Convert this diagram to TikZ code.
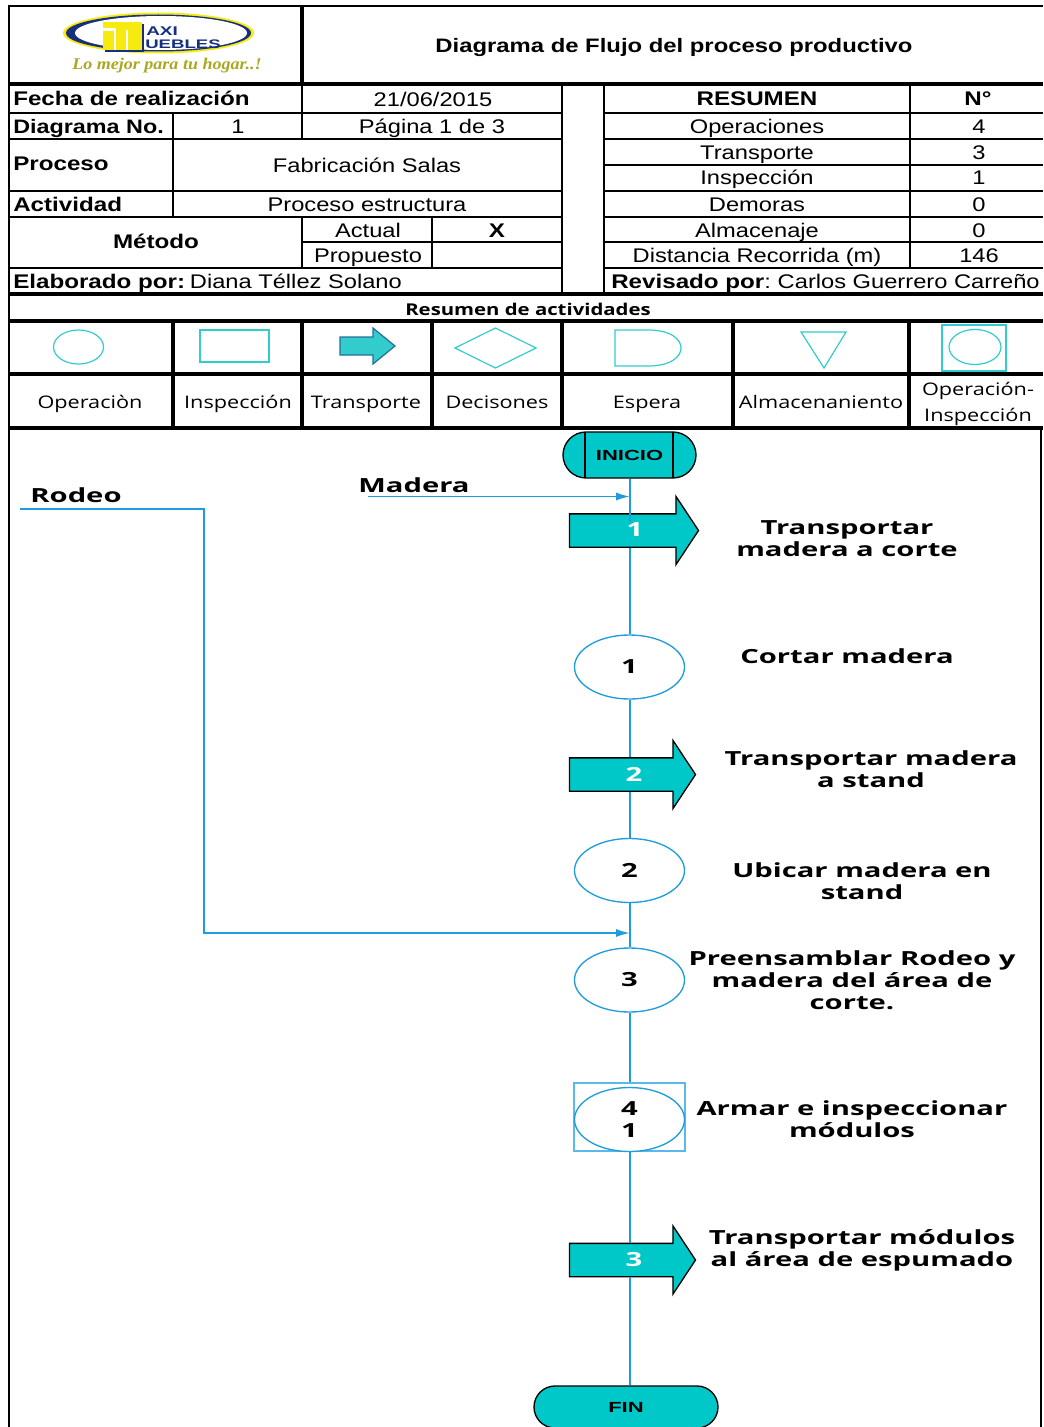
\documentclass[tikz,border=0pt]{standalone}
\usepackage{fontspec}
\usetikzlibrary{shapes.geometric,shapes.arrows,shapes.misc,arrows.meta}
\newfontfamily\tabfont[FakeStretch=1.2]{Liberation Sans}
\newfontfamily\tabbfont[FakeStretch=1.225]{Liberation Sans}
\newfontfamily\termfont[FakeStretch=1.5]{Liberation Sans}
\newfontfamily\labfont[FakeStretch=1.25]{Open Sans}
\newfontfamily\flowfont[FakeStretch=1.5]{Open Sans}
\newfontfamily\logofont[FakeStretch=1.1]{Liberation Serif}
\definecolor{teal1}{HTML}{00C8C8}
\definecolor{icon1}{HTML}{33CCCC}
\definecolor{flow1}{HTML}{1F9CDD}
\definecolor{flow2}{HTML}{5BB8EA}
\definecolor{navy1}{HTML}{16307F}
\definecolor{logoy}{HTML}{F6EA10}
\definecolor{logot}{HTML}{A9A820}
\newcommand{\numfnt}{\flowfont\bfseries\fontsize{14.6}{16.5}\selectfont}
\tikzset{
  grid/.style={black,line width=1.1pt},
  gridb/.style={black,line width=2.3pt},
  frame/.style={black,line width=.8pt},
  tt/.style={inner sep=0pt,text height=10.5pt,text depth=0pt,font=\tabfont\fontsize{14.8}{16}\selectfont},
  ttb/.style={tt,font=\tabbfont\bfseries\fontsize{14.8}{16}\selectfont},
  lab/.style={inner sep=0pt,text height=10pt,text depth=3pt,font=\labfont\fontsize{13}{19.5}\selectfont},
  labtwo/.style={inner sep=0pt,align=center,font=\labfont\fontsize{13}{19.5}\selectfont},
  iconline/.style={icon1,line width=.9pt},
  flowlab/.style={inner sep=0pt,align=center,font=\numfnt},
  flownum/.style={inner sep=0pt,text=white,font=\numfnt},
  flowline/.style={draw=flow1,line width=1.5pt},
  flowarr/.style={draw=flow1,line width=.85pt,-{Latex[length=10pt,width=6pt]}},
  oper/.style={ellipse,draw=flow1,line width=1pt,fill=white,inner sep=0pt,minimum width=82.5pt,minimum height=48pt,font=\numfnt,align=center},
  trans/.style={single arrow,draw=black,line width=1pt,fill=teal1,inner sep=0pt,single arrow tip angle=113,single arrow head extend=13.1pt,minimum width=48.5pt,text height=17pt,text depth=7pt},
  term/.style={rounded rectangle,draw=black,line width=1pt,fill=teal1,inner sep=0pt,font=\termfont\bfseries\fontsize{11}{12}\selectfont},
}
\begin{document}
\begin{tikzpicture}[x=.75pt,y=-.75pt]
\useasboundingbox (0,0) rectangle (1043,1427);
\clip (0,0) rectangle (1043,1427);
% outer frame and grid
\draw[frame] (1043,6) -- (9,6) -- (9,1427);
\draw[frame] (1041,428) -- (1041,1427);
\draw[gridb] (302,6) -- (302,84);
\draw[gridb] (9,84) -- (1043,84);
\draw[gridb] (9,294) -- (1043,294);
\foreach \y in {113,139,191,217,268} \draw[grid] (9,\y) -- (562,\y);
\draw[grid] (302,242) -- (562,242);
\foreach \y in {113,139,165,191,217,242,268} \draw[grid] (604,\y) -- (1043,\y);
\draw[grid] (173,113) -- (173,217);
\draw[grid] (302,84) -- (302,139);
\draw[grid] (302,217) -- (302,268);
\draw[grid] (432,217) -- (432,268);
\draw[grid] (562,84) -- (562,294);
\draw[grid] (604,84) -- (604,294);
\draw[grid] (910,84) -- (910,268);
\foreach \y in {321,374,428} \draw[gridb] (9,\y) -- (1043,\y);
\foreach \x in {173,302,432,562,733,909} \draw[gridb] (\x,321) -- (\x,428);
% logo
\fill[logoy] (158.5,33) ellipse [x radius=95.5,y radius=20.5];
\fill[navy1] (158.5,33) ellipse [x radius=92.5,y radius=18.5];
\fill[white] (161,33) ellipse [x radius=86,y radius=17];
\fill[navy1] (105,24) rectangle (144,52);
\fill[logoy] (103,22) rectangle (142,50);
\fill[white] (113.5,30) rectangle (115.5,50);
\fill[white] (126,30) rectangle (128,50);
\fill[white] (103,28) rectangle (115.5,31);
\node[inner sep=0pt,anchor=west,text=navy1,font=\termfont\bfseries\fontsize{9.5}{10}\selectfont] (logoa) at (146,31.5) {AXI};
\node[inner sep=0pt,anchor=west,text=navy1,font=\termfont\bfseries\fontsize{9.3}{10}\selectfont] (logob) at (145,44.5) {UEBLES};
\node[inner sep=0pt,text=logot,font=\logofont\itshape\bfseries\fontsize{12.3}{14}\selectfont] (logoc) at (167,65.5) {Lo mejor para tu hogar..!};
% title
\node[ttb,font=\tabbfont\bfseries\fontsize{14.6}{16}\selectfont] (title) at (674,46) {Diagrama de Flujo del proceso productivo};
% header table
\node[ttb,anchor=west] (fecha) at (13,99) {Fecha de realización};
\node[tt] (fechav) at (433,100) {21/06/2015};
\node[ttb,anchor=west,font=\tabfont\bfseries\fontsize{14.6}{16}\selectfont] (diag) at (13,127) {Diagrama No.};
\node[tt] (diagv) at (238,127) {1};
\node[tt] (pag) at (432,127) {Página 1 de 3};
\node[ttb,anchor=west] (proc) at (13,164) {Proceso};
\node[tt] (procv) at (367,166) {Fabricación Salas};
\node[ttb,anchor=west] (act) at (13,204) {Actividad};
\node[tt] (actv) at (367,204) {Proceso estructura};
\node[ttb] (met) at (156,241) {Método};
\node[tt] (actual) at (368,230) {Actual};
\node[ttb] (x) at (497,230) {X};
\node[tt] (prop) at (368,255) {Propuesto};
\node[tt,anchor=west] (elab) at (13,281) {{\tabbfont\bfseries Elaborado por:}\hspace{-3pt} Diana Téllez Solano};
\node[ttb] (res) at (757,99) {RESUMEN};
\node[ttb] (num) at (978,99) {N°};
\node[tt] (r1) at (757,127) {Operaciones};
\node[tt] (n1) at (979,127) {4};
\node[tt] (r2) at (757,153) {Transporte};
\node[tt] (n2) at (979,153) {3};
\node[tt] (r3) at (757,178) {Inspección};
\node[tt] (n3) at (979,178) {1};
\node[tt] (r4) at (757,204) {Demoras};
\node[tt] (n4) at (979,204) {0};
\node[tt] (r5) at (757,230) {Almacenaje};
\node[tt] (n5) at (979,230) {0};
\node[tt] (r6) at (757,255) {Distancia Recorrida (m)};
\node[tt] (n6) at (979,255) {146};
\node[tt,anchor=west] (rev) at (611,281) {{\tabbfont\bfseries Revisado por}:\hspace{-1.5pt} Carlos Guerrero Carreño};
% legend
\node[inner sep=0pt,font=\labfont\bfseries\fontsize{12.2}{14}\selectfont] (resact) at (528,309) {Resumen de actividades};
\draw[iconline] (78.5,347) ellipse [x radius=25,y radius=17];
\draw[iconline] (200,330) rectangle (269,362);
\draw[line width=.9pt,draw=navy1!60!icon1,fill=icon1] (340,337) -- (373,337) -- (373,328) -- (395,346) -- (373,364) -- (373,355) -- (340,355) -- cycle;
\draw[iconline] (455,348) -- (495.5,328) -- (536,348) -- (495.5,368) -- cycle;
\draw[iconline] (615,330) -- (648,330) .. controls (672,330) and (681,340) .. (681,348) .. controls (681,356) and (672,366) .. (648,366) -- (615,366) -- cycle;
\draw[iconline] (801,332) -- (846,332) -- (824,368) -- cycle;
\draw[iconline] (942,325) rectangle (1006,371);
\draw[iconline] (975,347) ellipse [x radius=26,y radius=17.5];
\node[lab] (l1) at (90,404) {Operaciòn};
\node[lab] (l2) at (238,404) {Inspección};
\node[lab] (l3) at (366,404) {Transporte};
\node[lab] (l4) at (497,404) {Decisones};
\node[lab] (l5) at (647,404) {Espera};
\node[lab] (l6) at (821,404) {Almacenaniento};
\node[labtwo] (l7) at (978,404) {Operación-\\Inspección};
% flow nodes
\node[term,minimum width=99.75pt,minimum height=34.5pt] (ini) at (629.5,455) {INICIO};
\draw[line width=1pt] (585,432) -- (585,478) (673,432) -- (673,478);
\node[trans,minimum height=96.75pt] (a1) at (628.5,530.5) {};
\node[oper] (o1) at (629.5,667) {1};
\node[trans,minimum height=94.5pt] (a2) at (627,774.5) {};
\node[oper] (o2) at (629.5,870.5) {2};
\node[oper] (o3) at (629.5,980) {3};
\node[rectangle,draw=flow2,line width=.9pt,fill=white,minimum width=83.25pt,minimum height=51pt,inner sep=0pt] (ib) at (629.5,1117) {};
\node[oper] (o4) at (629.5,1119.5) {4\\1};
\node[trans,minimum height=94.5pt] (a3) at (627,1260) {};
\node[term,minimum width=138pt,minimum height=31.5pt] (fin) at (626,1407) {FIN};
% connectors
\coordinate (c1) at (629.5,522);
\draw[flowline] (ini.south) -- (ini.south |- c1);
\draw[flowline] (a1.after head -| ini.south) -- (o1.north);
\draw[flowline] (o1.south) -- (a2.before head -| o1.south);
\draw[flowline] (a2.after head -| o1.south) -- (o2.north);
\draw[flowline] (o2.south) -- (o3.north);
\draw[flowline] (o3.south) -- (ib.north);
\draw[flowline] (ib.south) -- (a3.before head -| ib.south);
\draw[flowline] (a3.after head -| ib.south) -- (fin.north -| ib.south);
% arrow numbers
\node[flownum] (a1n) at (635,530) {1};
\node[flownum] (a2n) at (634,774) {2};
\node[flownum] (a3n) at (634,1260) {3};
% side inputs
\coordinate (mad) at (368,496.5);
\coordinate (rod) at (20,509);
\coordinate (bend) at (204,933);
\draw[flowarr] (mad) -- (mad -| ini.south);
\draw[flowarr] (rod) -| (bend) -- (bend -| ini.south);
\node[flowlab] (rodeo) at (76,495) {Rodeo};
\node[flowlab] (madera) at (414,485) {Madera};
% flow labels
\node[flowlab] (t1) at (847,539) {Transportar\\madera a corte};
\node[flowlab] (t2) at (847,656) {Cortar madera};
\node[flowlab] (t3) at (871,769) {Transportar madera\\a stand};
\node[flowlab] (t4) at (862,881.5) {Ubicar madera en\\stand};
\node[flowlab] (t5) at (852,980) {Preensamblar Rodeo y\\madera del área de\\corte.};
\node[flowlab] (t6) at (852,1119) {Armar e inspeccionar\\módulos};
\node[flowlab] (t7) at (862,1250) {Transportar módulos\\al área de espumado};
\end{tikzpicture}
\end{document}
